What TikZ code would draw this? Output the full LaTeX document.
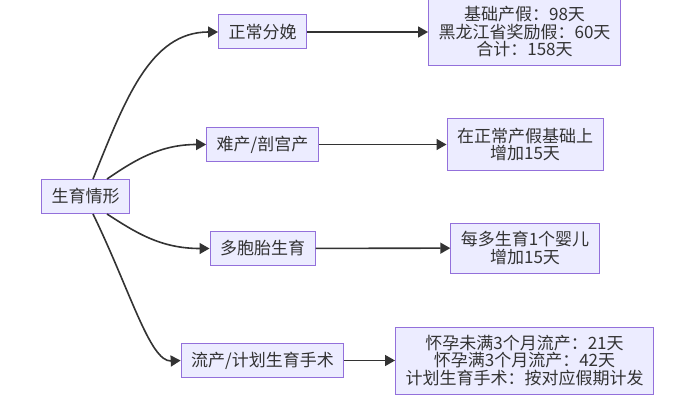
\documentclass[tikz,border=0pt]{standalone}
\usepackage{fontspec}
\setmainfont{Noto Sans CJK SC}
\usetikzlibrary{arrows.meta}
\definecolor{boxfill}{HTML}{ECECFF}
\definecolor{boxline}{HTML}{9370DB}
\definecolor{ink}{HTML}{333333}

\begin{document}
\begin{tikzpicture}[x=1pt,y=-1pt,
  every node/.style={draw=boxline,fill=boxfill,line width=1pt,text=ink,align=center,
    inner xsep=10pt,inner ysep=0pt,minimum height=34pt,
    font=\fontsize{17}{17.5}\selectfont},
  edge/.style={draw=ink,line width=1.6pt,-{Triangle[length=10pt,width=11pt]}}]
  \useasboundingbox (0,0) rectangle (698,401);
  \path (85.5,196.5) node (s0) {生育情形}
  (262.5,32) node (a1) {正常分娩} (262.5,144.5) node (a2) {难产/剖宫产}
  (262.5,248.5) node (a3) {多胞胎生育} (262.5,360.5) node (a4) {流产/计划生育手术};
  \path (524.5,32) node[minimum height=68pt] (b1) {基础产假：98天\\黑龙江省奖励假：60天\\合计：158天}
  (525,144.5) node[minimum height=51pt] (b2) {在正常产假基础上\\增加15天}
  (525,248) node[minimum height=50pt] (b3) {每多生育1个婴儿\\增加15天}
  (524.5,360.5) node[minimum height=67pt] (b4) {怀孕未满3个月流产：21天\\怀孕满3个月流产：42天\\计划生育手术：按对应假期计发};
  \draw[edge] ([xshift=7.5pt]s0.north) .. controls (125,100) and (150,32) .. (a1.west);
  \draw[edge] ([xshift=21.5pt]s0.north) .. controls (135,160) and (160,144.5) .. (a2.west);
  \draw[edge] ([xshift=21.5pt]s0.south) .. controls (135,232) and (160,248.5) .. (a3.west);
  \draw[edge] ([xshift=7.5pt]s0.south) .. controls (130,290) and (150,362) .. (a4.west);
  \draw[edge] (a1) -- (b1);
  \draw[edge] (a2) -- (b2);
  \draw[edge] (a3) -- (b3);
  \draw[edge] (a4) -- (b4);
\end{tikzpicture}
\end{document}
